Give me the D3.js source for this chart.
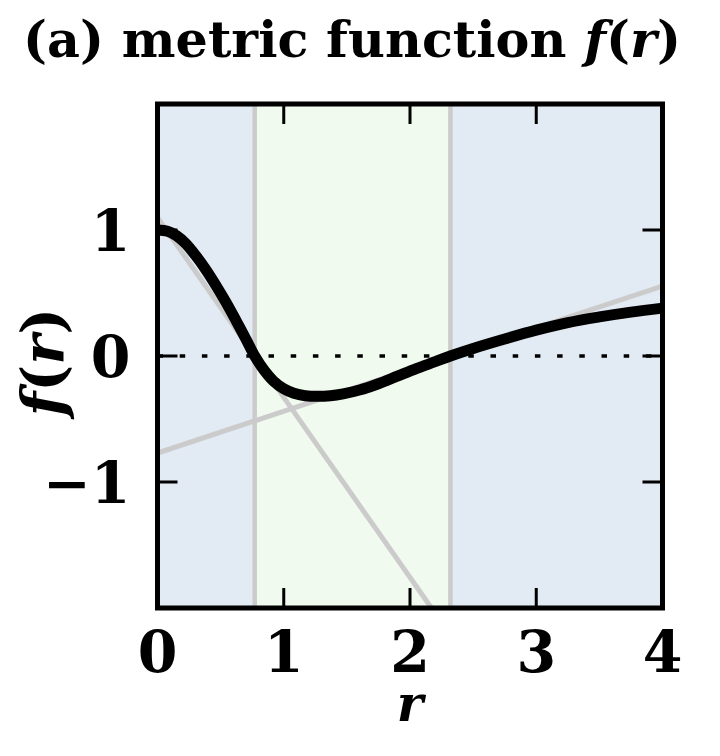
<!DOCTYPE html>
<html>
<head>
<meta charset="utf-8">
<script src="https://cdn.jsdelivr.net/npm/d3@7"></script>
<style>
  body { margin: 0; background: #fff; }
  svg text { font-family: 'DejaVu Serif', serif; font-weight: bold; fill: #000; }
</style>
</head>
<body>
<div id="chart"></div>
<script>
// metric function f(r)
const rValues = [0, 0.08, 0.15, 0.22, 0.30, 0.38, 0.46, 0.54, 0.62, 0.70, 0.77, 0.85, 0.92, 1.0,
  1.08, 1.17, 1.27, 1.37, 1.47, 1.6, 1.75, 1.9, 2.05, 2.2, 2.32, 2.5, 2.75, 3.0, 3.25, 3.5, 3.75, 4.0];
const fValues = [1.0, 0.99, 0.955, 0.895, 0.80, 0.69, 0.565, 0.43, 0.285, 0.135, 0.0, -0.12, -0.20, -0.26,
  -0.295, -0.315, -0.32, -0.315, -0.30, -0.27, -0.22, -0.16, -0.10, -0.045, 0.0, 0.06, 0.135, 0.205, 0.265, 0.31, 0.348, 0.38];

// horizons (zeros of f)
const horizons = [0.77, 2.32];
// tangent lines at the horizons: [r0, f0, r1, f1]
const tangentInner = [0, 1.1, 2.17, -2];
const tangentOuter = [0, -0.77, 4, 0.555];

const xTicks = [0, 1, 2, 3, 4];
const yTicks = [-1, 0, 1];
const xDomain = [0, 4];
const yDomain = [-2, 2];

const width = 720;
const height = 756;
const margin = { top: 104, right: 57.5, bottom: 148, left: 157.5 };
const innerW = width - margin.left - margin.right;
const innerH = height - margin.top - margin.bottom;

const blue = '#e2eaf3';
const green = '#f1faee';
const gray = '#cbcbcb';

const xScale = d3.scaleLinear().domain(xDomain).range([0, innerW]);
const yScale = d3.scaleLinear().domain(yDomain).range([innerH, 0]);

const svg = d3.select('#chart').append('svg')
  .attr('width', width)
  .attr('height', height);

const g = svg.append('g')
  .attr('transform', `translate(${margin.left},${margin.top})`);

// background regions
const regions = [
  { x0: xDomain[0], x1: horizons[0], fill: blue },
  { x0: horizons[0], x1: horizons[1], fill: green },
  { x0: horizons[1], x1: xDomain[1], fill: blue },
];
g.selectAll('.region')
  .data(regions)
  .enter().append('rect')
  .attr('class', 'region')
  .attr('x', d => xScale(d.x0))
  .attr('y', 0)
  .attr('width', d => xScale(d.x1) - xScale(d.x0))
  .attr('height', innerH)
  .attr('fill', d => d.fill);

const plot = g.append('g');
plot.append('clipPath').attr('id', 'clip')
  .append('rect').attr('width', innerW).attr('height', innerH);
plot.attr('clip-path', 'url(#clip)');

// horizon lines
plot.selectAll('.horizon')
  .data(horizons)
  .enter().append('line')
  .attr('x1', d => xScale(d))
  .attr('x2', d => xScale(d))
  .attr('y1', 0)
  .attr('y2', innerH)
  .attr('stroke', gray)
  .attr('stroke-width', 4.5);

// tangents
plot.selectAll('.tangent')
  .data([tangentInner, tangentOuter])
  .enter().append('line')
  .attr('x1', d => xScale(d[0]))
  .attr('y1', d => yScale(d[1]))
  .attr('x2', d => xScale(d[2]))
  .attr('y2', d => yScale(d[3]))
  .attr('stroke', gray)
  .attr('stroke-width', 5);

// zero line
plot.append('line')
  .attr('x1', 0)
  .attr('x2', innerW)
  .attr('y1', yScale(0))
  .attr('y2', yScale(0))
  .attr('stroke', '#000')
  .attr('stroke-width', 3.6)
  .attr('stroke-dasharray', '5.5,16.7');

// ticks, inward on all sides
const tickLen = 20;
const tickG = g.append('g').attr('stroke', '#000').attr('stroke-width', 3);
xTicks.slice(1, -1).forEach((t) => {
  tickG.append('line').attr('x1', xScale(t)).attr('x2', xScale(t)).attr('y1', innerH).attr('y2', innerH - tickLen);
  tickG.append('line').attr('x1', xScale(t)).attr('x2', xScale(t)).attr('y1', 0).attr('y2', tickLen);
});
yTicks.forEach((t) => {
  tickG.append('line').attr('x1', 0).attr('x2', tickLen).attr('y1', yScale(t)).attr('y2', yScale(t));
  tickG.append('line').attr('x1', innerW).attr('x2', innerW - tickLen).attr('y1', yScale(t)).attr('y2', yScale(t));
});

// f(r)
const curve = rValues.map((r, i) => [r, fValues[i]]);
plot.append('path')
  .datum(curve)
  .attr('fill', 'none')
  .attr('stroke', '#000')
  .attr('stroke-width', 11)
  .attr('stroke-linejoin', 'round')
  .attr('d', d3.line()
    .x(d => xScale(d[0]))
    .y(d => yScale(d[1]))
    .curve(d3.curveCatmullRom.alpha(0.5)));

// frame
g.append('rect')
  .attr('width', innerW)
  .attr('height', innerH)
  .attr('fill', 'none')
  .attr('stroke', '#000')
  .attr('stroke-width', 5);

// tick labels
const fmt = t => (t < 0 ? '\u2212' + Math.abs(t) : String(t));
g.selectAll('.xlab')
  .data(xTicks)
  .enter().append('text')
  .attr('x', d => xScale(d))
  .attr('y', innerH + 64)
  .attr('text-anchor', 'middle')
  .attr('font-size', 57)
  .text(fmt);

g.selectAll('.ylab')
  .data(yTicks)
  .enter().append('text')
  .attr('x', -27)
  .attr('y', d => yScale(d) + 21)
  .attr('text-anchor', 'end')
  .attr('font-size', 57)
  .text(fmt);

// axis labels
svg.append('text')
  .attr('x', margin.left + xScale(2))
  .attr('y', 721)
  .attr('text-anchor', 'middle')
  .attr('font-size', 50)
  .attr('font-style', 'italic')
  .text('r');

const yl = svg.append('text')
  .attr('transform', 'translate(63,362) rotate(-90)')
  .attr('text-anchor', 'middle')
  .attr('font-size', 57);
yl.append('tspan').attr('font-style', 'italic').text('f');
yl.append('tspan').text('(');
yl.append('tspan').attr('font-style', 'italic').text('r');
yl.append('tspan').text(')');

// title, sized to span the same width as the reference
const title = svg.append('text')
  .attr('x', 352)
  .attr('y', 57)
  .attr('text-anchor', 'middle')
  .attr('font-size', 44);
title.append('tspan').text('(a) metric function ');
title.append('tspan').attr('font-style', 'italic').text('f');
title.append('tspan').text('(');
title.append('tspan').attr('font-style', 'italic').text('r');
title.append('tspan').text(')');
const titleLen = title.node().getComputedTextLength();
title.attr('font-size', 44 * 658 / titleLen);
</script>
</body>
</html>
